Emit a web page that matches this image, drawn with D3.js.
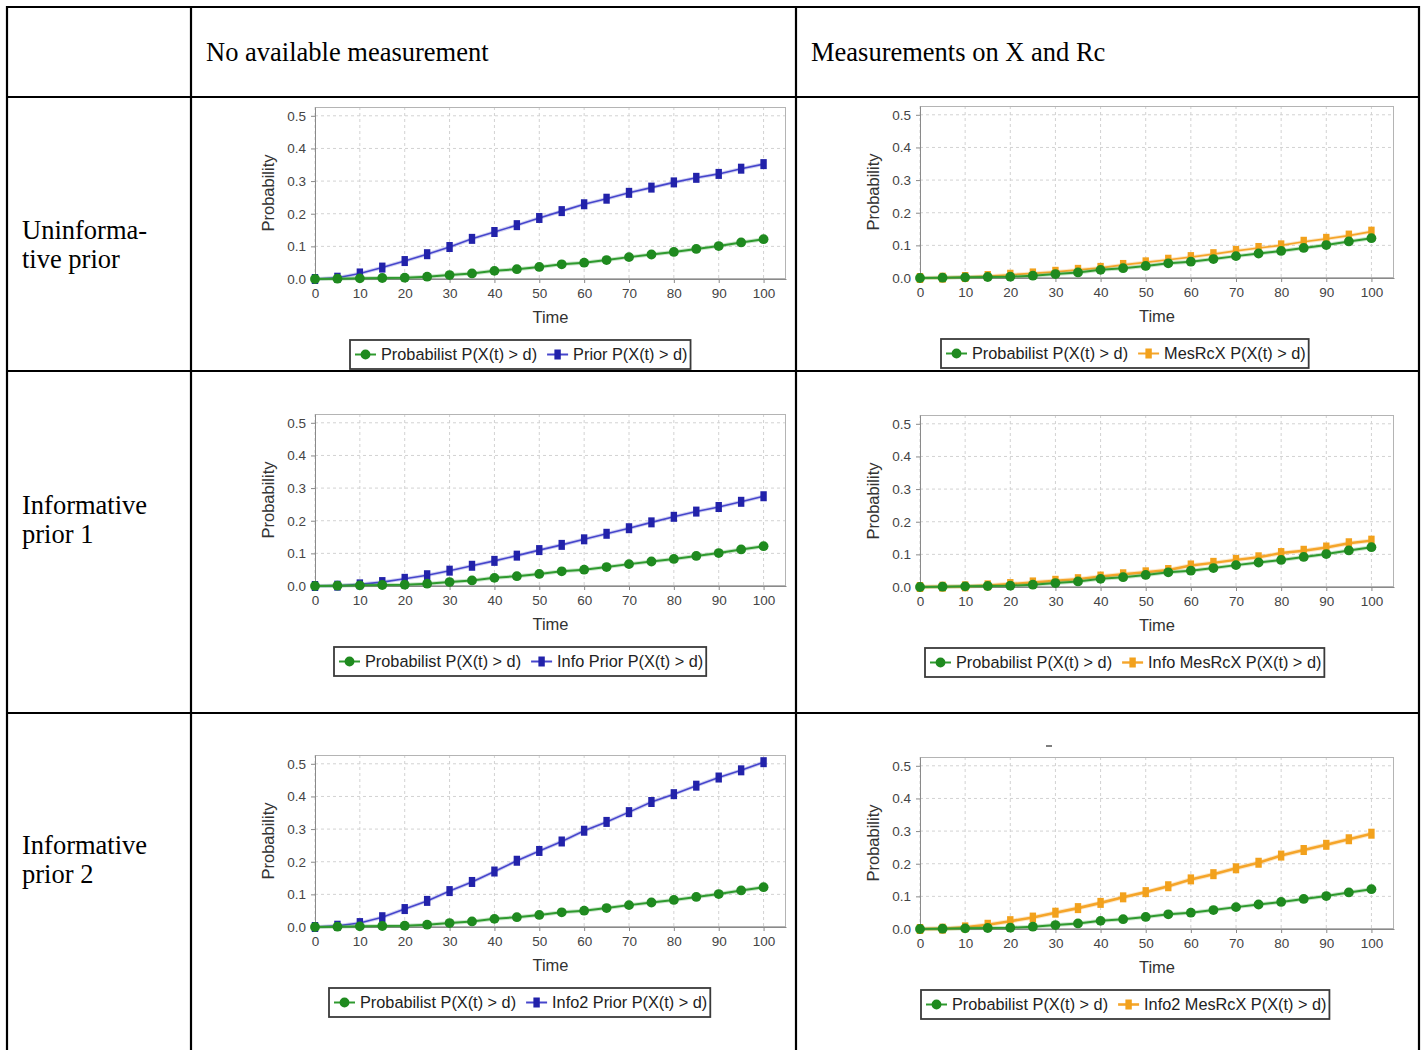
<!DOCTYPE html>
<html><head><meta charset="utf-8">
<script src="https://cdn.jsdelivr.net/npm/d3@7/dist/d3.min.js"></script>
<style>
body{margin:0;background:#fff}
svg{display:block}
</style>
</head><body>
<svg id="c" width="1426" height="1050"></svg>
<script>
// ---------- data ----------
const times = [0,5,10,15,20,25,30,35,40,45,50,55,60,65,70,75,80,85,90,95,100];
const probabilist = [0,0.001,0.002,0.003,0.004,0.007,0.012,0.017,0.025,0.03,0.037,0.045,0.05,0.058,0.067,0.075,0.083,0.092,0.101,0.112,0.122];
const prior       = [0,0.004,0.017,0.035,0.055,0.076,0.098,0.123,0.144,0.165,0.187,0.208,0.229,0.246,0.264,0.28,0.296,0.31,0.322,0.338,0.352];
const mesRcX      = [0,0.001,0.003,0.006,0.01,0.014,0.019,0.025,0.031,0.04,0.048,0.056,0.064,0.073,0.083,0.092,0.1,0.111,0.12,0.13,0.142];
const infoPrior   = [0,0.001,0.005,0.012,0.022,0.033,0.047,0.062,0.077,0.093,0.11,0.126,0.143,0.16,0.177,0.195,0.212,0.228,0.242,0.258,0.275];
const infoMesRcX  = [0,0.001,0.002,0.005,0.009,0.014,0.019,0.024,0.032,0.039,0.045,0.052,0.066,0.074,0.083,0.091,0.104,0.111,0.121,0.134,0.142];
const info2Prior  = [0,0.004,0.012,0.03,0.055,0.08,0.11,0.138,0.17,0.203,0.233,0.262,0.295,0.322,0.352,0.383,0.407,0.433,0.458,0.48,0.505];
const info2MesRcX = [0,0.001,0.005,0.013,0.024,0.035,0.05,0.064,0.08,0.097,0.113,0.131,0.152,0.168,0.186,0.203,0.225,0.242,0.258,0.275,0.292];

const xTicks = [0,10,20,30,40,50,60,70,80,90,100];
const yTicks = [0,0.1,0.2,0.3,0.4,0.5];
const columnHeaders = ["No available measurement","Measurements on X and Rc"];
const rowLabels = [["Uninforma-","tive prior"],["Informative","prior 1"],["Informative","prior 2"]];
const probabilistName = "Probabilist P(X(t) > d)";
const otherNames = ["Prior P(X(t) > d)","MesRcX P(X(t) > d)","Info Prior P(X(t) > d)","Info MesRcX P(X(t) > d)","Info2 Prior P(X(t) > d)","Info2 MesRcX P(X(t) > d)"];
const otherSeries = [prior, mesRcX, infoPrior, infoMesRcX, info2Prior, info2MesRcX];

// ---------- layout / style ----------
const colLeft = [315, 920];
const colWidth = [471, 474];
const plotBottoms = [279, 278, 586, 587, 927, 929];
const plotH = 172;
const rowBaselines = [[239,268],[514,543],[854,883]];
const SANS = '"Liberation Sans", Arial, Helvetica, sans-serif';
const SERIF = '"Liberation Serif", "Times New Roman", Times, serif';
const GREEN = "#1f8a1f", GREEN_LINE = "#2f9a2f";
const BLUE = "#2222aa", BLUE_LINE = "#4646cc";
const ORANGE = "#f2a11c", ORANGE_LINE = "#f5a52a";
const otherStyle = [
  {c:BLUE, l:BLUE_LINE, w:1.6},
  {c:ORANGE, l:ORANGE_LINE, w:1.7},
  {c:BLUE, l:BLUE_LINE, w:1.6},
  {c:ORANGE, l:ORANGE_LINE, w:2.4},
  {c:BLUE, l:BLUE_LINE, w:1.6},
  {c:ORANGE, l:ORANGE_LINE, w:2.6}
];

const svg = d3.select("#c");
svg.append("rect").attr("width",1426).attr("height",1050).attr("fill","#fff");

// ---------- charts ----------
otherSeries.forEach((vals, i) => {
  const row = Math.floor(i/2), col = i%2;
  const left = colLeft[col], width = colWidth[col];
  const bottom = plotBottoms[i], top = bottom - plotH;
  const x = d3.scaleLinear().domain([0,105]).range([left, left+width]);
  const y = d3.scaleLinear().domain([0,0.527]).range([bottom, top]);
  const g = svg.append("g");
  const st = otherStyle[i];

  g.append("rect").attr("x",left).attr("y",top).attr("width",width).attr("height",plotH)
    .attr("fill","#fff");

  // grid
  g.append("g").selectAll("line").data(xTicks).join("line")
    .attr("x1",d=>x(d)).attr("x2",d=>x(d)).attr("y1",top).attr("y2",bottom)
    .attr("stroke","#d2d2d2").attr("stroke-width",1).attr("stroke-dasharray","3,3");
  g.append("g").selectAll("line").data(yTicks).join("line")
    .attr("x1",left).attr("x2",left+width).attr("y1",d=>y(d)).attr("y2",d=>y(d))
    .attr("stroke","#d2d2d2").attr("stroke-width",1).attr("stroke-dasharray","3,3");

  // outline
  g.append("rect").attr("x",left+0.5).attr("y",top+0.5).attr("width",width-1).attr("height",plotH-1)
    .attr("fill","none").attr("stroke","#b4b4b4").attr("stroke-width",1);

  // axes
  const ax = g.append("g").attr("transform",`translate(0,${bottom})`)
    .call(d3.axisBottom(x).tickValues(xTicks).tickFormat(d3.format("d")).tickSizeInner(4).tickSizeOuter(0).tickPadding(5));
  const ay = g.append("g").attr("transform",`translate(${left},0)`)
    .call(d3.axisLeft(y).tickValues(yTicks).tickFormat(d3.format(".1f")).tickSizeInner(4).tickSizeOuter(0).tickPadding(5));
  [ax, ay].forEach(a => {
    a.select(".domain").attr("stroke","#8a8a8a");
    a.selectAll(".tick line").attr("stroke","#8a8a8a");
    a.selectAll(".tick text").attr("font-family",SANS).attr("font-size","13.5px").attr("fill","#444");
  });

  // axis labels
  g.append("text").attr("transform",`translate(${left-47},${(top+bottom)/2}) rotate(-90)`)
    .attr("text-anchor","middle").attr("dominant-baseline","central")
    .attr("font-family",SANS).attr("font-size","16.5px").attr("fill","#333").text("Probability");
  g.append("text").attr("x",left+width/2).attr("y",bottom+44).attr("text-anchor","middle")
    .attr("font-family",SANS).attr("font-size","16.5px").attr("fill","#333").text("Time");

  // series
  const series = [
    {vals: vals, color: st.c, line: st.l, w: st.w, shape: "rect"},
    {vals: probabilist, color: GREEN, line: GREEN_LINE, w: 2, shape: "circle"}
  ];
  const lineGen = d3.line().x((d,k)=>x(times[k])).y(d=>y(d));
  const clipId = "clip"+i;
  svg.append("defs").append("clipPath").attr("id",clipId)
    .append("rect").attr("x",left-6).attr("y",top).attr("width",width+6).attr("height",plotH+6);
  const sg = g.append("g").attr("clip-path",`url(#${clipId})`);
  series.forEach(s => {
    sg.append("path").datum(s.vals).attr("d",lineGen).attr("fill","none")
      .attr("stroke",s.line).attr("stroke-opacity",0.25).attr("stroke-width",s.w+2);
    sg.append("path").datum(s.vals).attr("d",lineGen).attr("fill","none")
      .attr("stroke",s.line).attr("stroke-width",s.w);
  });
  series.forEach(s => {
    if (s.shape === "rect") {
      sg.append("g").selectAll("rect").data(s.vals).join("rect")
        .attr("x",(d,k)=>x(times[k])-3.2).attr("y",d=>y(d)-5).attr("width",6.4).attr("height",10)
        .attr("fill",s.color);
    } else {
      sg.append("g").selectAll("circle").data(s.vals).join("circle")
        .attr("cx",(d,k)=>x(times[k])).attr("cy",d=>y(d)).attr("r",4.9)
        .attr("fill",s.color);
    }
  });

  // legend
  const lg = g.append("g");
  const ltop = bottom + 61, lh = 29, mid = ltop + lh/2;
  const items = [
    {name: probabilistName, color: GREEN, line: GREEN_LINE, shape:"circle", w:2},
    {name: otherNames[i], color: st.c, line: st.l, shape:"rect", w: Math.max(2, st.w)}
  ];
  const inner = lg.append("g");
  let cur = 5;
  items.forEach((it, k) => {
    inner.append("line").attr("x1",cur).attr("x2",cur+21).attr("y1",mid).attr("y2",mid)
      .attr("stroke",it.line).attr("stroke-width",it.w);
    if (it.shape === "circle") {
      inner.append("circle").attr("cx",cur+10.5).attr("cy",mid).attr("r",4.9).attr("fill",it.color);
    } else {
      inner.append("rect").attr("x",cur+7.3).attr("y",mid-5).attr("width",6.4).attr("height",10).attr("fill",it.color);
    }
    const t = inner.append("text").attr("x",cur+26).attr("y",mid+5.8)
      .attr("font-family",SANS).attr("font-size","16.3px").attr("fill","#222").text(it.name);
    const len = t.node().getComputedTextLength();
    cur += 26 + len + (k === 0 ? 10 : 3);
  });
  const boxW = cur;
  const cx = left + 205;
  const bx = Math.round(cx - boxW/2);
  lg.insert("rect",":first-child").attr("x",bx).attr("y",ltop).attr("width",boxW).attr("height",lh)
    .attr("fill","#fff").attr("stroke","#3a3a3a").attr("stroke-width",1.8);
  inner.attr("transform",`translate(${bx},0)`);
});

// small stray mark above bottom-right chart
svg.append("line").attr("x1",1046).attr("x2",1052).attr("y1",746).attr("y2",746)
  .attr("stroke","#555").attr("stroke-width",1.5);

// ---------- table ----------
const tg = svg.append("g");
[7,191,796,1419].forEach(xv => {
  tg.append("line").attr("x1",xv).attr("x2",xv).attr("y1",6).attr("y2",1050)
    .attr("stroke","#000").attr("stroke-width",2.2);
});
[7,97,371,713].forEach(yv => {
  tg.append("line").attr("x1",6).attr("x2",1420).attr("y1",yv).attr("y2",yv)
    .attr("stroke","#000").attr("stroke-width",2.2);
});
columnHeaders.forEach((h, k) => {
  tg.append("text").attr("x",[206,811][k]).attr("y",61)
    .attr("font-family",SERIF).attr("font-size","26.5px").attr("fill","#000").text(h);
});
rowLabels.forEach((lines, r) => {
  lines.forEach((ln, j) => {
    tg.append("text").attr("x",22).attr("y",rowBaselines[r][j])
      .attr("font-family",SERIF).attr("font-size","26.5px").attr("fill","#000").text(ln);
  });
});
</script>
</body></html>
